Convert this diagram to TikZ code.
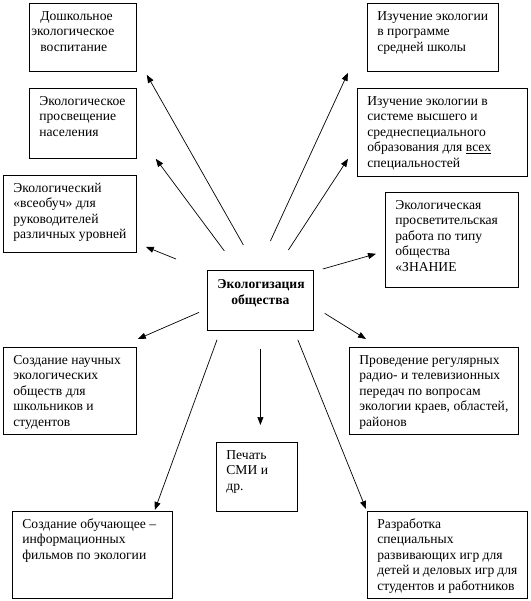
\documentclass[tikz,border=0pt]{standalone}
\usepackage{fontspec}
\setmainfont{Liberation Serif}
\usetikzlibrary{arrows.meta, calc}

\begin{document}
\begin{tikzpicture}[
    x=1pt, y=-1pt,
    item/.style 2 args={draw, line width=0.8pt, anchor=north west, inner xsep=10pt, inner ysep=4pt,
        font=\fontsize{13.6pt}{15.5pt}\selectfont,
        execute at begin node={\begin{minipage}[t][#2][t]{#1}\raggedright\rule{0pt}{13pt}},
        execute at end node={\end{minipage}}},
    core/.style 2 args={draw, line width=0.8pt, anchor=north west, inner xsep=10pt, inner ysep=4pt,
        font=\fontsize{13.6pt}{16pt}\selectfont\bfseries,
        execute at begin node={\begin{minipage}[t][#2][t]{#1}\centering\rule{0pt}{14pt}},
        execute at end node={\end{minipage}}},
    arr/.style={-{Triangle[length=8pt, width=6pt]}, line width=0.7pt},
]
    \useasboundingbox (0,0) rectangle (530,601);

    \node[core={86pt}{52pt}] (cen) at (207,270) {Экологизация\\общества};

    % left column
    \node[item={87pt}{60pt}] (dosh) at (29,3) {\hspace{1pt}Дошкольное\\\hspace*{-8pt}экологическое\\\hspace*{1pt}воспитание};
    \node[item={87pt}{62pt}] (pros) at (29,88) {Экологическое\\просвещение\\населения};
    \node[item={113pt}{69pt}] (vseo) at (3,175) {Экологический\\«всеобуч» для\\руководителей\\различных уровней};
    \node[item={113pt}{79pt}] (nauch) at (3,347) {Создание научных\\экологических\\обществ для\\школьников и\\студентов};
    \node[item={140pt}{79pt}] (film) at (12,511) {Создание обучающее –\\информационных\\фильмов по экологии};

    % right column
    \node[item={111pt}{60pt}] (prog) at (367,3) {Изучение экологии\\в программе\\средней школы};
    \node[item={150pt}{80pt}] (vyss) at (357,88) {Изучение экологии в\\системе высшего и\\среднеспециального\\образования для \underline{всех}\\специальностей};
    \node[item={113pt}{87pt}] (znan) at (385,192) {Экологическая\\просветительская\\работа по типу\\общества\\«ЗНАНИЕ};
    \node[item={149pt}{79pt}] (prov) at (349,347) {Проведение регулярных\\радио- и телевизионных\\передач по вопросам\\экологии краев, областей,\\районов};
    \node[item={140pt}{79pt}] (razr) at (367,511) {Разработка\\специальных\\развивающих игр для\\детей и деловых игр для\\студентов и работников};
    \node[item={61pt}{61pt}] (pech) at (216,442) {Печать\\СМИ и\\др.};

    \draw[arr] ($(cen.north)+(-17,-25)$) -- ($(dosh.south east)+(10,3)$);
    \draw[arr] ($(cen.north)+(-36,-19)$) -- ($(pros.south east)+(19,0)$);
    \draw[arr] ($(cen.north west)+(-31,-11)$) -- ($(vseo.south east)+(9,-6)$);
    \draw[arr] ($(cen.north)+(10,-29)$) -- ($(prog.south west)+(-19,1)$);
    \draw[arr] ($(cen.north)+(28,-20)$) -- ($(vyss.south west)+(-9,-18)$);
    \draw[arr] ($(cen.north east)+(9,-1)$) -- ($(znan.south west)+(-9,-34)$);
    \draw[arr] ($(cen.west)+(-8,12)$) -- ($(nauch.north east)+(1,-8)$);
    \draw[arr] ($(cen.south west)+(10,9)$) -- ($(film.north east)+(-18,-1)$);
    \draw[arr] ($(cen.south)+(0,18)$) -- ($(pech.north)+(3.5,-17)$);
    \draw[arr] ($(cen.east)+(11,13)$) -- ($(prov.north west)+(17,-8)$);
    \draw[arr] ($(cen.south east)+(-16,9)$) -- ($(razr.north west)+(-1,-2)$);
\end{tikzpicture}
\end{document}
